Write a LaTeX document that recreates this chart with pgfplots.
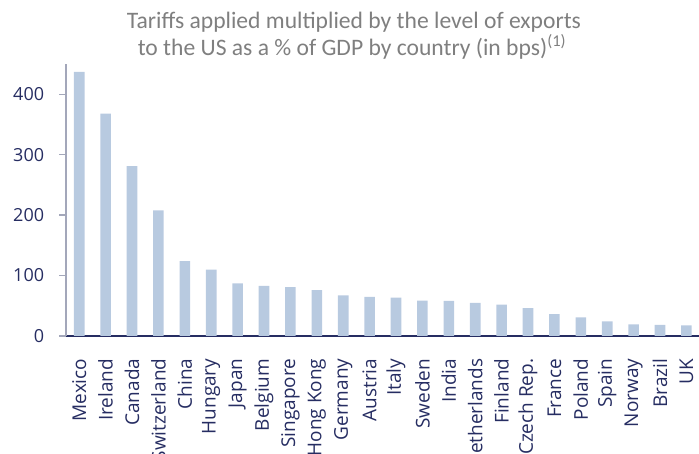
\documentclass[border=0pt]{standalone}
\usepackage{pgfplots}
\pgfplotsset{compat=1.18}
\usepackage{fontspec}
\setmainfont{Open Sans}
\newfontfamily\titlefont{Carlito}
\definecolor{barblue}{HTML}{B8CAE0}
\definecolor{navy}{HTML}{262D62}
\definecolor{axgray}{HTML}{A3A7BA}
\definecolor{titlegray}{HTML}{7F7F7F}
\begin{document}
\begin{tikzpicture}[x=1pt,y=1pt]
\begin{axis}[
  at={(66pt,118pt)}, anchor=south west,
  scale only axis,
  width=633.6pt, height=272pt,
  xmin=-0.5, xmax=23.5,
  ymin=0, ymax=450,
  axis x line*=bottom,
  axis y line*=left,
  x axis line style={navy, line width=1.8pt, -},
  y axis line style={axgray, line width=1.4pt, -},
  xtick=data,
  xticklabels={Mexico,Ireland,Canada,Switzerland,China,Hungary,Japan,Belgium,Singapore,Hong Kong,Germany,Austria,Italy,Sweden,India,Netherlands,Finland,Czech Rep.,France,Poland,Spain,Norway,Brazil,UK},
  ytick={0,100,200,300,400},
  x tick style={draw=none},
  y tick style={axgray, line width=1.4pt},
  tick align=outside,
  major tick length=7pt,
  xticklabel style={rotate=90, anchor=east, inner sep=0pt, font=\fontsize{19}{22}\selectfont, text=navy},
  yticklabel style={inner sep=0pt, font=\fontsize{18}{22}\selectfont, text=navy},
  xticklabel shift=15.5pt,
  yticklabel shift=14.7pt,
  /pgf/number format/assume math mode=true,
]
\addplot[ybar, bar width=10.6pt, fill=barblue, draw=none] coordinates {
(0,437) (1,368) (2,281) (3,208) (4,124) (5,110) (6,87) (7,83) (8,81) (9,76)
(10,67) (11,64.6) (12,63.5) (13,58.5) (14,58) (15,55) (16,52) (17,46)
(18,36) (19,31) (20,24) (21,19.4) (22,18.2) (23,17.7)};
\end{axis}
\node[anchor=base, text=titlegray, font=\titlefont\fontsize{23.6}{27}\selectfont] at (354pt,425.5pt) {Tariffs applied multiplied by the level of exports};
\node[anchor=base, text=titlegray, font=\titlefont\fontsize{23.6}{27}\selectfont] at (352pt,398.5pt) {to the US as a \% of GDP by country (in bps)\textsuperscript{(1)}};
\pgfresetboundingbox
\useasboundingbox (0,0) rectangle (699pt,454pt);
\end{tikzpicture}
\end{document}
